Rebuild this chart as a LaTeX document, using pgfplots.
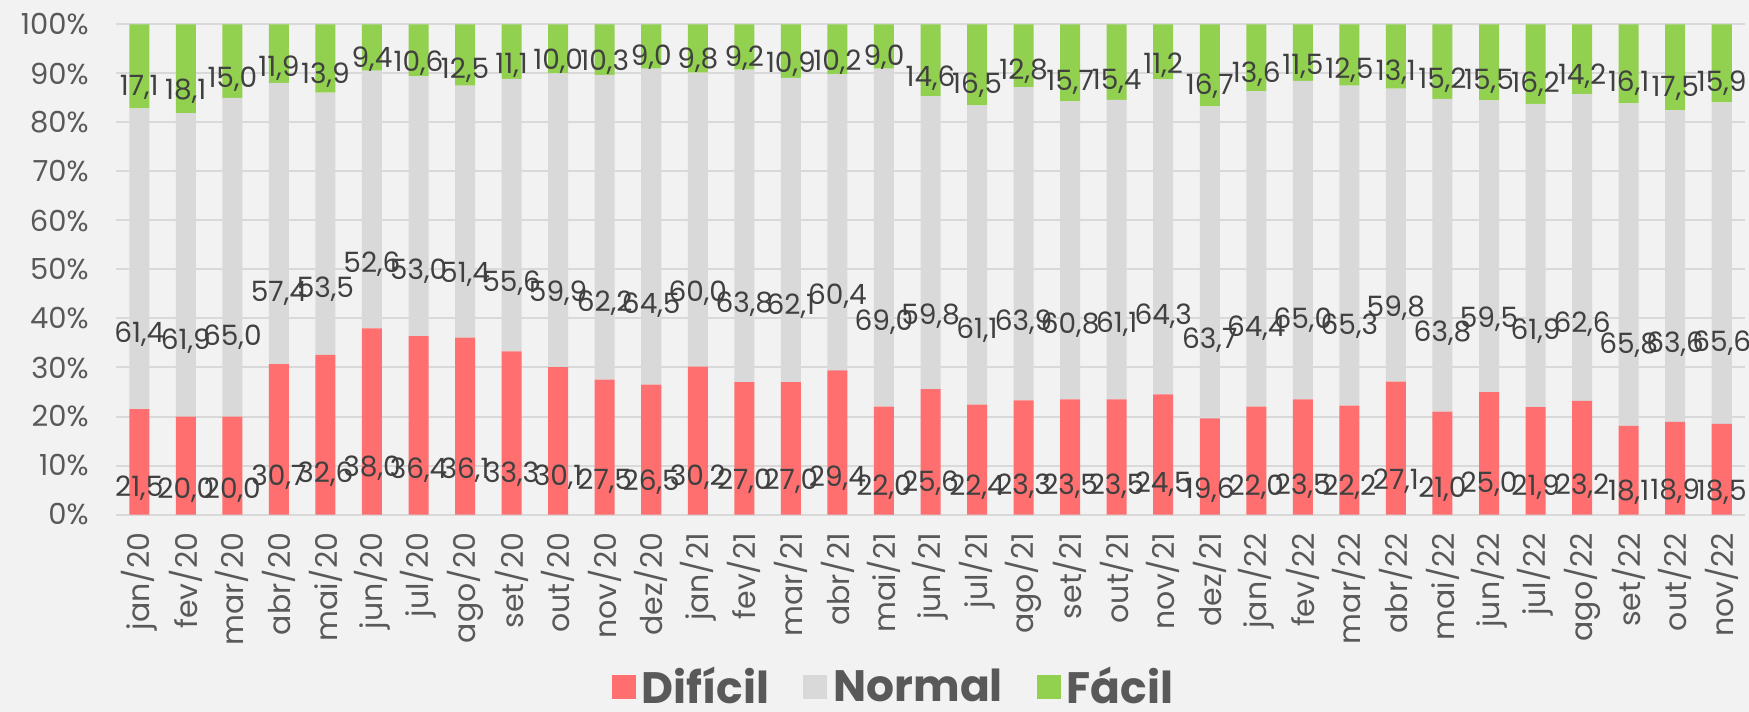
\documentclass[border=0pt]{standalone}
\usepackage{fontspec}
\setmainfont{Poppins}
\usepackage{pgfplots}
\pgfplotsset{compat=1.18}
\usepackage{pgfplotstable}
\definecolor{bg}{HTML}{F2F2F2}
\definecolor{grd}{HTML}{D9D9D9}
\definecolor{dif}{HTML}{FF6F6F}
\definecolor{nor}{HTML}{D9D9D9}
\definecolor{fac}{HTML}{92D050}
\definecolor{lbl}{HTML}{404040}
\definecolor{tck}{HTML}{595959}

\pgfplotstableread{
x dif nor fac
0 21.5 61.4 17.1
1 20.0 61.9 18.1
2 20.0 65.0 15.0
3 30.7 57.4 11.9
4 32.6 53.5 13.9
5 38.0 52.6 9.4
6 36.4 53.0 10.6
7 36.1 51.4 12.5
8 33.3 55.6 11.1
9 30.1 59.9 10.0
10 27.5 62.2 10.3
11 26.5 64.5 9.0
12 30.2 60.0 9.8
13 27.0 63.8 9.2
14 27.0 62.1 10.9
15 29.4 60.4 10.2
16 22.0 69.0 9.0
17 25.6 59.8 14.6
18 22.4 61.1 16.5
19 23.3 63.9 12.8
20 23.5 60.8 15.7
21 23.5 61.1 15.4
22 24.5 64.3 11.2
23 19.6 63.7 16.7
24 22.0 64.4 13.6
25 23.5 65.0 11.5
26 22.2 65.3 12.5
27 27.1 59.8 13.1
28 21.0 63.8 15.2
29 25.0 59.5 15.5
30 21.9 61.9 16.2
31 23.2 62.6 14.2
32 18.1 65.8 16.1
33 18.9 63.6 17.5
34 18.5 65.6 15.9
}\data

\begin{document}
\begin{tikzpicture}
\fill[bg] (-58pt,-98.5pt) rectangle (816.5pt,257.25pt);
\begin{axis}[
  at={(0,0)}, anchor=south west,
  width=814.5pt, height=245pt, scale only axis,
  ybar stacked, bar width=0.43,
  xmin=-0.5, xmax=34.5, ymin=0, ymax=100,
  xtick={0,...,34},
  xticklabels={jan/20,fev/20,mar/20,abr/20,mai/20,jun/20,jul/20,ago/20,set/20,out/20,nov/20,dez/20,jan/21,fev/21,mar/21,abr/21,mai/21,jun/21,jul/21,ago/21,set/21,out/21,nov/21,dez/21,jan/22,fev/22,mar/22,abr/22,mai/22,jun/22,jul/22,ago/22,set/22,out/22,nov/22},
  ytick={0,10,...,100},
  yticklabel={\pgfmathprintnumber[fixed,precision=0]{\tick}\%},
  ymajorgrids, grid style={grd, line width=1pt},
  axis line style={draw=none},
  major tick length=0pt,
  /pgf/number format/assume math mode=true,
  yticklabel style={font=\fontsize{14.5}{16}\selectfont, text=tck, anchor=east, inner sep=0pt, xshift=-13.5pt},
  xticklabel style={font=\fontsize{15}{16}\selectfont, text=tck, yshift=-9pt, rotate=90, anchor=east, inner sep=0pt},
  nodes near coords={\pgfmathprintnumber[fixed,fixed zerofill,precision=1,use comma]{\pgfplotspointmeta}},
  visualization depends on={0.25*rawy \as \halfy},
  every node near coord/.append style={font=\fontsize{14}{16}\selectfont, text=lbl, anchor=center, inner sep=0pt, shift={(axis direction cs:0,-\halfy)}},
  legend style={at={(axis description cs:0.478,-0.352)}, anchor=center, draw=none, fill=none, font=\fontsize{22}{26}\selectfont\bfseries, text=tck, /tikz/every even column/.append style={column sep=15pt}},
  legend columns=-1,
  legend image code/.code={\fill[#1] (0pt,-6pt) rectangle (12pt,6pt);},
]
\addplot[fill=dif, draw=none] table[x=x, y=dif] {\data};
\addlegendentry{\hspace{1pt}Difícil}
\addplot[fill=nor, draw=none] table[x=x, y=nor] {\data};
\addlegendentry{\hspace{1pt}Normal}
\addplot[fill=fac, draw=none] table[x=x, y=fac] {\data};
\addlegendentry{\hspace{1pt}Fácil}
\end{axis}
\pgfresetboundingbox
\path (-58pt,-98.5pt) rectangle (816.5pt,257.25pt);
\end{tikzpicture}
\end{document}
